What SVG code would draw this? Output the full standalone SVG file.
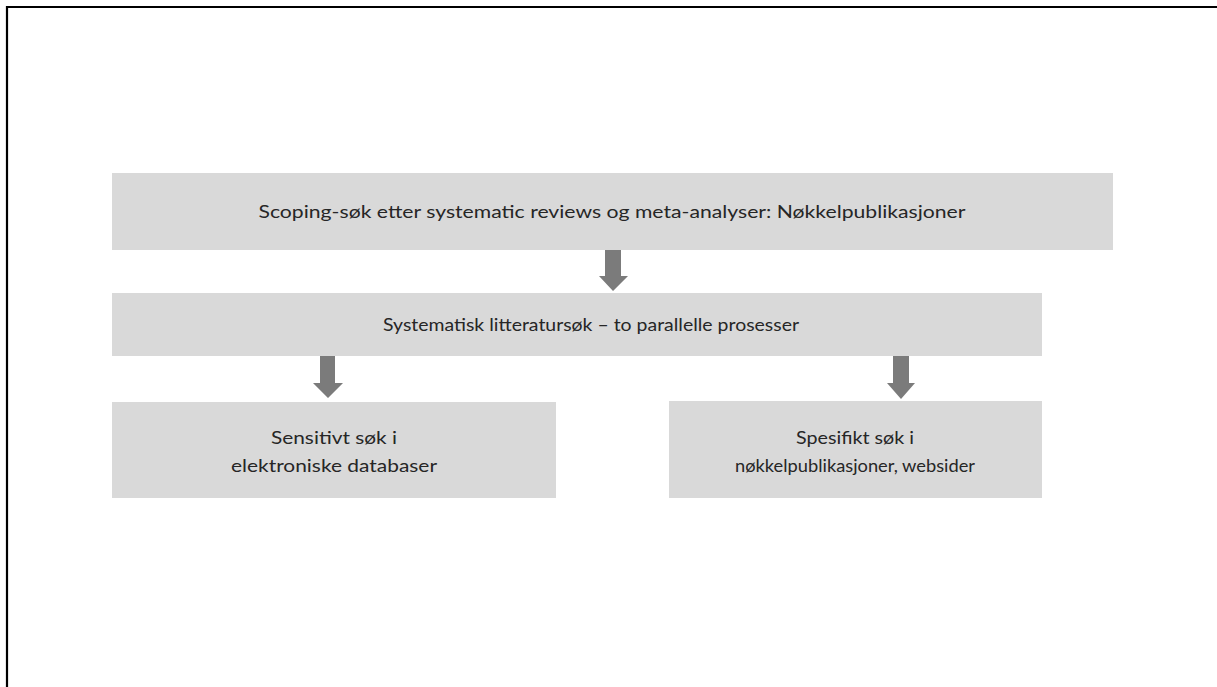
<svg xmlns="http://www.w3.org/2000/svg" width="1217" height="687" viewBox="0 0 1217 687">
<style>
.box{fill:#d9d9d9;}
.arr{fill:#7b7b7b;}
.t{font-family:Lato,"Open Sans","Liberation Sans",sans-serif;font-size:17px;fill:#262626;text-anchor:middle;}
</style>
<rect width="1217" height="687" fill="#ffffff"/>
<path d="M7,687 V7 H1217" fill="none" stroke="#000" stroke-width="2.2"/>
<g id="n1"><rect class="box" x="112" y="173" width="1001" height="77"/>
<text class="t" x="612" y="218" textLength="707" lengthAdjust="spacingAndGlyphs">Scoping-søk etter systematic reviews og meta-analyser: Nøkkelpublikasjoner</text></g>
<g id="n2"><rect class="box" x="112" y="293" width="930" height="63"/>
<text class="t" x="591" y="331" textLength="416" lengthAdjust="spacingAndGlyphs">Systematisk litteratursøk – to parallelle prosesser</text></g>
<g id="n3"><rect class="box" x="112" y="402" width="444" height="96"/>
<text class="t" x="334" y="444" textLength="126" lengthAdjust="spacingAndGlyphs">Sensitivt søk i</text>
<text class="t" x="334" y="472" textLength="206" lengthAdjust="spacingAndGlyphs">elektroniske databaser</text></g>
<g id="n4"><rect class="box" x="669" y="401" width="373" height="97"/>
<text class="t" x="855" y="444" textLength="118" lengthAdjust="spacingAndGlyphs">Spesifikt søk i</text>
<text class="t" x="855" y="472" textLength="240" lengthAdjust="spacingAndGlyphs">nøkkelpublikasjoner, websider</text></g>
<g id="connectors">
<polygon class="arr" points="605,250 621,250 621,276 628,276 613,291 599,276 605,276"/>
<polygon class="arr" points="320,356 335,356 335,383 343,383 328,398 313,383 320,383"/>
<polygon class="arr" points="893,356 909,356 909,383 915,383 901,399 887,383 893,383"/>
</g>
</svg>
